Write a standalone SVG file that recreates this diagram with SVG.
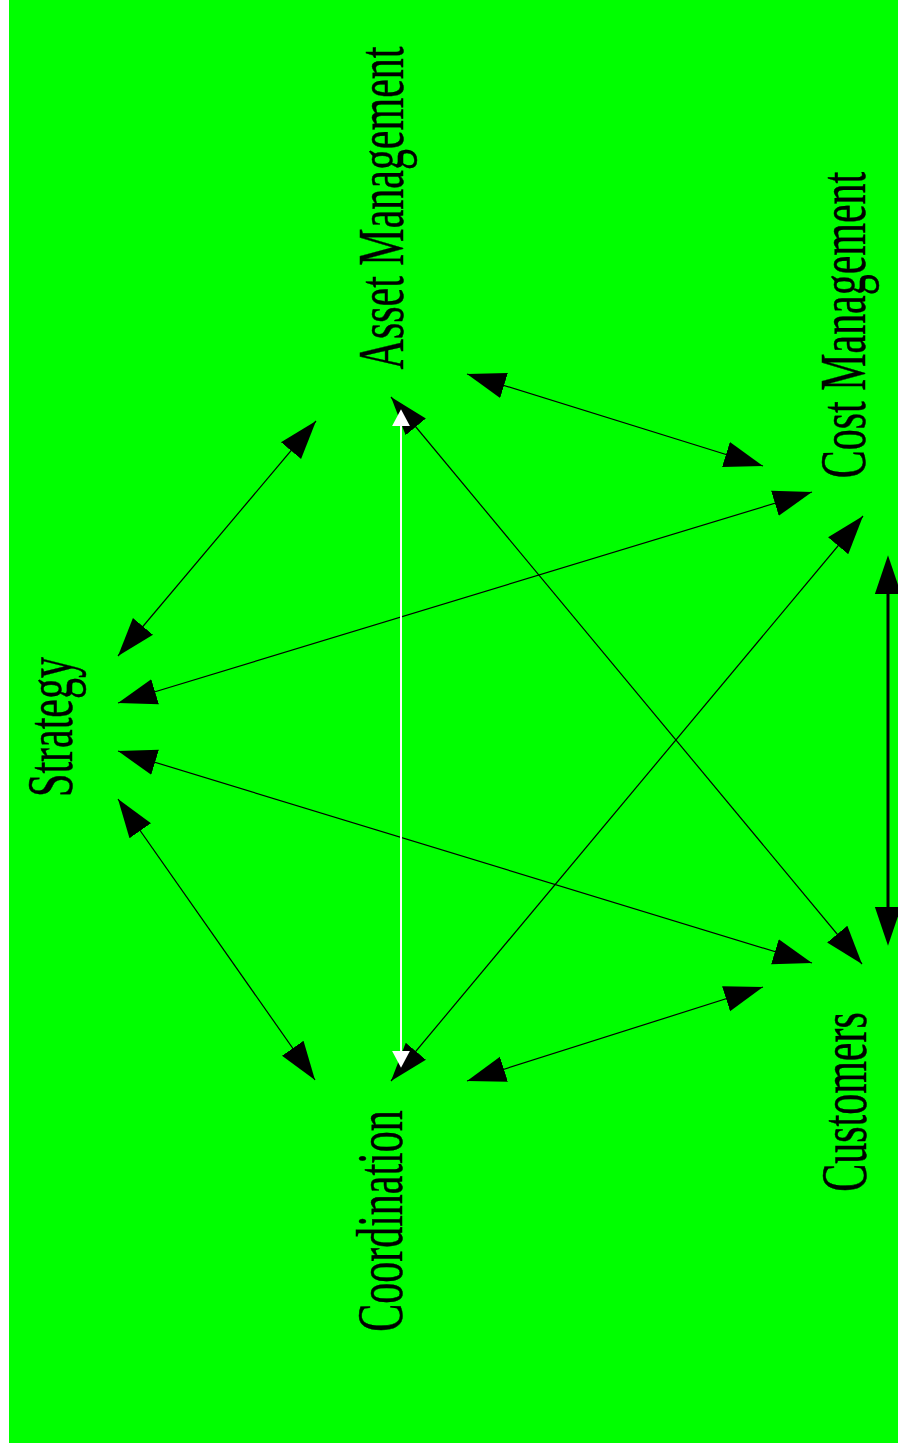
<svg xmlns="http://www.w3.org/2000/svg" width="898" height="1452" viewBox="0 0 898 1452">
<defs>
<style>
.lbl{font-family:"Liberation Serif","Times New Roman",serif;font-size:66px;fill:#000;stroke:#000;stroke-width:0.5;text-anchor:middle}
.e{stroke:#000;stroke-width:1.2;fill:none;marker-start:url(#ah);marker-end:url(#ah)}
</style>
<marker id="ah" markerUnits="userSpaceOnUse" markerWidth="40" markerHeight="30" viewBox="0 -12 32 24" refX="31" refY="0" orient="auto-start-reverse">
<path d="M0,-10.5 L31,0 L0,10.5 Z" fill="#000"/>
</marker>
<marker id="ahb" markerUnits="userSpaceOnUse" markerWidth="40" markerHeight="30" viewBox="0 -12 32 24" refX="0" refY="0" orient="auto-start-reverse">
<path d="M0,-10.5 L31,0 L0,10.5 Z" fill="#000"/>
</marker>
<marker id="ahw" markerUnits="userSpaceOnUse" markerWidth="20" markerHeight="20" viewBox="0 -9 16 18" refX="0" refY="0" orient="auto-start-reverse">
<path d="M0,-8 L15,0 L0,8 Z" fill="#fff"/>
</marker>
</defs>
<rect x="9" y="0" width="889" height="1443" fill="#00ff00"/>
<g id="connectors">
<line class="e" x1="467" y1="374" x2="763" y2="466"/>
<line class="e" x1="316" y1="421" x2="118" y2="656"/>
<line class="e" x1="391" y1="397" x2="862" y2="964"/>
<line class="e" x1="812" y1="492" x2="118" y2="703"/>
<line class="e" x1="863" y1="516" x2="391" y2="1081"/>
<line class="e" x1="118" y1="751" x2="812" y2="963"/>
<line class="e" x1="118" y1="799" x2="315" y2="1080"/>
<line class="e" x1="467" y1="1081" x2="763" y2="987"/>
<line x1="888" y1="594" x2="888" y2="907" stroke="#000" stroke-width="3" marker-start="url(#ahb)" marker-end="url(#ahb)"/>
<line x1="401" y1="426" x2="401" y2="1051" stroke="#fff" stroke-width="2" marker-start="url(#ahw)" marker-end="url(#ahw)"/>
</g>
<g id="asset-management"><text class="lbl" transform="translate(403,208) rotate(-90) scale(0.636,1)">Asset Management</text></g>
<g id="cost-management"><text class="lbl" transform="translate(865,325) rotate(-90) scale(0.636,1)">Cost Management</text></g>
<g id="strategy"><text class="lbl" transform="translate(72,727) rotate(-90) scale(0.636,1)">Strategy</text></g>
<g id="coordination"><text class="lbl" transform="translate(402,1221) rotate(-90) scale(0.636,1)">Coordination</text></g>
<g id="customers"><text class="lbl" transform="translate(866,1102) rotate(-90) scale(0.636,1)">Customers</text></g>
</svg>
